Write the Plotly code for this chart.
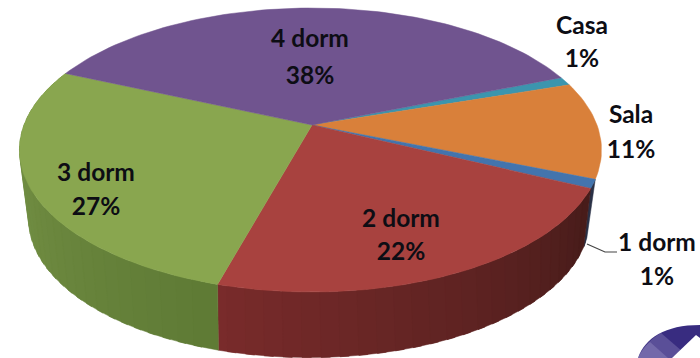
import math
import plotly.graph_objects as go

categories = ["Casa", "Sala", "1 dorm", "2 dorm", "3 dorm", "4 dorm"]
values = [1, 11, 1, 22.4, 27.2, 37.5]
percent_labels = ["1%", "11%", "1%", "22%", "27%", "38%"]
top_colors = ["#3c95ae", "#d9803a", "#4374ad", "#a8423f", "#89a64f", "#70548f"]
# wall shade: colour at the start and the end of each slice's visible side
wall_start = ["#28616f", "#8c5225", "#2b3348", "#471c1a", "#5f7a35", "#4b3760"]
wall_end = ["#28616f", "#8c5225", "#262c40", "#7a2b2b", "#7d9b4c", "#4b3760"]
label_xy = [(582, 28, 61), (631, 117, 152), (657, 245, 279), (401, 221, 254), (96, 175, 209), (310, 41, 78)]

START_ANGLE = 68.5
X0, Y0, RX_RIGHT, RX_LEFT, RY, K = 312, 125, 285, 288, 137.6, 0.176
X1, Y1, RX1, RY1 = 309, 195, 276, 134


def project(theta, lower=False):
    if lower:
        theta = theta - 4 * min(1, max(0, (194.5 - theta) / 79.5))
    t = math.radians(theta)
    u, v = math.sin(t), math.cos(t)
    w = 1 + K * v
    if lower:
        return X1 + RX1 * u / w, Y1 - RY1 * v / w
    rx = RX_RIGHT if u >= 0 else RX_LEFT
    return X0 + rx * u / w, Y0 - RY * v / w


def hex_rgb(c):
    return [int(c[i:i + 2], 16) for i in (1, 3, 5)]


def mix(a, b, f):
    ca, cb = hex_rgb(a), hex_rgb(b)
    return "rgb(%d,%d,%d)" % tuple(round(p + (q - p) * f) for p, q in zip(ca, cb))


fig = go.Figure()
total = sum(values)
edges = [START_ANGLE]
for val in values:
    edges.append(edges[-1] + 360 * val / total)


def poly(xs, ys, color):
    fig.add_trace(go.Scatter(x=xs, y=ys, mode="lines", fill="toself", fillcolor=color,
                             line=dict(color=color, width=0.5), hoverinfo="skip", showlegend=False))


# side walls, split into shaded strips; each strip overlaps the next to hide seams
for i, val in enumerate(values):
    a, b = edges[i], edges[i + 1]
    n = max(2, int((b - a) / 3))
    for j in reversed(range(n)):
        t0 = a + (b - a) * j / n
        t1 = a + (b - a) * (j + 1) / n
        mid = ((t0 + t1) / 2) % 360
        if not 111 < mid < 295:
            continue
        t1 = min(t1 + 1.5, b)
        p0, p1 = project(t0), project(t1)
        q0, q1 = project(t0, True), project(t1, True)
        poly([p0[0], p1[0], q1[0], q0[0], p0[0]], [p0[1], p1[1], q1[1], q0[1], p0[1]],
             mix(wall_start[i], wall_end[i], (j + 0.5) / n))

# top faces
for i, val in enumerate(values):
    a, b = edges[i], edges[i + 1]
    n = max(4, int((b - a) / 1.5))
    pts = [project(a + (b - a) * j / n) for j in range(n + 1)]
    xs = [X0] + [p[0] for p in pts] + [X0]
    ys = [Y0] + [p[1] for p in pts] + [Y0]
    poly(xs, ys, top_colors[i])

# labels
for name, pct, (lx, ly1, ly2) in zip(categories, percent_labels, label_xy):
    fig.add_trace(go.Scatter(x=[lx, lx], y=[ly1, ly2], text=[name, pct], mode="text",
                             textposition="middle center",
                             textfont=dict(family="Lato", size=24.5, color="#0d0d14", weight="bold"),
                             hoverinfo="skip", showlegend=False))

shapes = [
    # leader line of "1 dorm"
    dict(type="path", path="M 587 244 L 605 252 L 617 252", line=dict(color="#444444", width=1.2)),
    # logo corner
    dict(type="path", path="M 638 358 C 645 338 665 325 700 325 L 700 358 Z",
         fillcolor="#382c80", line=dict(width=0), layer="above"),
    dict(type="path", path="M 638 358 C 643 346 651 339 661 333 L 690 358 Z",
         fillcolor="rgba(190,185,225,0.25)", line=dict(width=0), layer="above"),
    dict(type="path", path="M 638 358 C 641 351 645 346 650 342 L 668 358 Z",
         fillcolor="rgba(190,185,225,0.25)", line=dict(width=0), layer="above"),
    dict(type="path", path="M 672 358 L 696 335 L 700 338 L 700 358 Z",
         fillcolor="#ffffff", line=dict(width=0), layer="above"),
]

fig.update_layout(
    width=700, height=358, margin=dict(l=0, r=0, t=0, b=0),
    paper_bgcolor="white", plot_bgcolor="white",
    xaxis=dict(range=[0, 700], visible=False, fixedrange=True),
    yaxis=dict(range=[358, 0], visible=False, fixedrange=True),
    shapes=shapes, showlegend=False,
)
fig.write_html("out.html", config={"displayModeBar": False},
               post_script="document.body.style.margin='0';document.body.style.overflow='hidden';")
